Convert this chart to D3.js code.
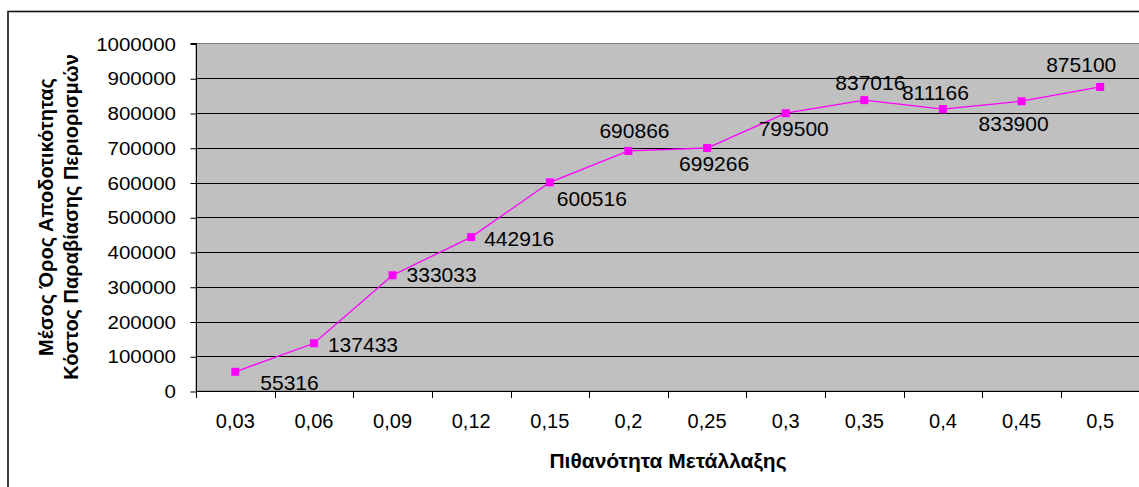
<!DOCTYPE html>
<html><head><meta charset="utf-8">
<script src="https://cdn.jsdelivr.net/npm/d3@7/dist/d3.min.js"></script>
<style>body{margin:0;background:#fff}svg{display:block;font-family:Arial,"Liberation Sans",sans-serif}</style>
</head><body><svg id="c" width="1139" height="487"></svg>
<script>
const categories = ["0,03","0,06","0,09","0,12","0,15","0,2","0,25","0,3","0,35","0,4","0,45","0,5"];
const values = [55316,137433,333033,442916,600516,690866,699266,799500,837016,811166,833900,875100];
const yTicks = [0,100000,200000,300000,400000,500000,600000,700000,800000,900000,1000000];
const xTitle = "Πιθανότητα Μετάλλαξης";
const yTitle = ["Μέσος Όρος Αποδοτικότητας","Κόστος Παραβίασης Περιορισμών"];
// label offsets (layout only)
const labelOffsets = [[26,11],[15,1],[15,-1],[14,1],[8,16],[-28,-20],[-27,15],[-26,15],[-28,-18],[-40,-17],[-42,22],[-53,-22]];

const svg = d3.select("#c");
const L=196, R=1139.5, T=43.5, B=391;
svg.append("rect").attr("x",8).attr("y",11.5).attr("width",1140).attr("height",490)
  .attr("fill","#fff").attr("stroke","#111").attr("stroke-width",1.6);

const x = d3.scaleBand().domain(categories).range([L,R]);
const y = d3.scaleLinear().domain([0,1000000]).range([B,T]);

svg.append("rect").attr("x",L).attr("y",T).attr("width",R-L).attr("height",B-T)
  .attr("fill","#C0C0C0").attr("stroke","#808080").attr("stroke-width",1);

svg.append("g").selectAll("line").data(yTicks.filter(d=>d>0 && d<1000000)).join("line")
  .attr("x1",L).attr("x2",R).attr("y1",d=>Math.round(y(d))+0.5).attr("y2",d=>Math.round(y(d))+0.5)
  .attr("stroke","#000").attr("stroke-width",1);

// y axis
const ya = svg.append("g").attr("transform",`translate(${L+0.5},0.5)`)
  .call(d3.axisLeft(y).tickValues(yTicks).tickSize(6).tickPadding(12).tickFormat(d=>String(d)));
ya.select(".domain").attr("stroke","#000").attr("d",`M-6,${T-0.5}H0V${B}`);
ya.selectAll(".tick line").attr("stroke","#000");
ya.selectAll("text").attr("font-size",19).attr("fill","#000").attr("font-family","Arial, Liberation Sans")
  .attr("transform","scale(1.08,1)").attr("dx",-1);

// x axis
const xa = svg.append("g").attr("transform",`translate(0,${B+0.5})`)
  .call(d3.axisBottom(x).tickSize(0).tickPadding(22));
xa.select(".domain").attr("stroke","#000").attr("d",`M${L},0H${R}`);
xa.selectAll("text").attr("font-size",20).attr("fill","#000").attr("font-family","Arial, Liberation Sans");
svg.append("g").selectAll("line").data(d3.range(categories.length+1)).join("line")
  .attr("x1",i=>Math.round(L+i*x.bandwidth())+0.5).attr("x2",i=>Math.round(L+i*x.bandwidth())+0.5)
  .attr("y1",B).attr("y2",B+7).attr("stroke","#000");

// line
const cx = (d,i)=>x(categories[i])+x.bandwidth()/2;
svg.append("path").datum(values)
  .attr("d",d3.line().x(cx).y(d=>y(d)))
  .attr("fill","none").attr("stroke","#FF00FF").attr("stroke-width",1.3);
svg.append("g").selectAll("rect").data(values).join("rect")
  .attr("x",(d,i)=>cx(d,i)-4).attr("y",d=>y(d)-4).attr("width",8).attr("height",8).attr("fill","#FF00FF");

// labels
svg.append("g").selectAll("text").data(values).join("text")
  .attr("x",(d,i)=>cx(d,i)+labelOffsets[i][0]-1).attr("y",(d,i)=>y(d)+labelOffsets[i][1])
  .attr("dy","0.36em").attr("font-size",21).attr("fill","#000").text(d=>d);

// titles
svg.append("text").attr("x",668).attr("y",461).attr("dy","0.35em").attr("text-anchor","middle")
  .attr("font-weight","bold").attr("font-size",21).attr("fill","#000").text(xTitle);
yTitle.forEach((t,i)=>{
  svg.append("text").attr("transform",`translate(${46+i*25},217) rotate(-90)`)
    .attr("dy","0.35em").attr("text-anchor","middle").attr("font-weight","bold")
    .attr("font-size",20).attr("fill","#000").text(t);
});
</script></body></html>
